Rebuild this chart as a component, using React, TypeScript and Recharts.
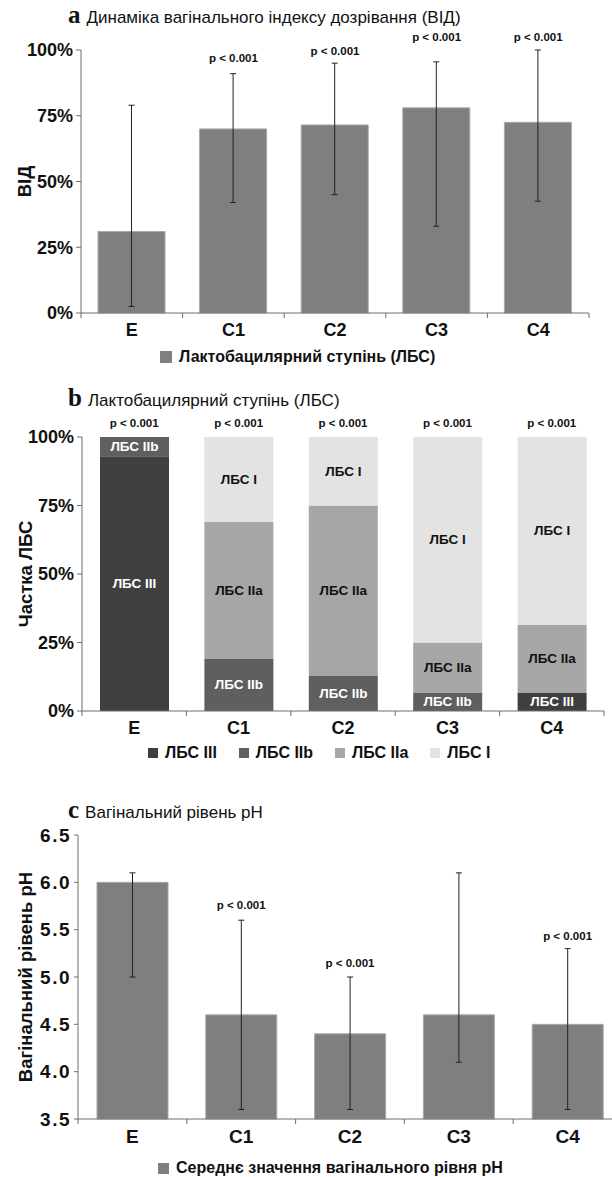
import React from 'react';
import { ComposedChart, Bar, Line, XAxis, YAxis, ErrorBar, LabelList, Legend } from 'recharts';

// ---------- shared ----------
const categories = ['E', 'C1', 'C2', 'C3', 'C4'];

// ---------- chart a: vaginal maturation index (ВІД), % ----------
const vidMean = [31, 70, 71.5, 78, 72.5];
const vidLow = [2.5, 42, 45, 33, 42.5];
const vidHigh = [79, 91, 95, 95.5, 100];
const vidP = ['', 'p < 0.001', 'p < 0.001', 'p < 0.001', 'p < 0.001'];

// ---------- chart b: lactobacillary grade shares, % ----------
const lbsIII = [93, 0, 0, 0, 6.6];
const lbsIIb = [7, 19, 12.8, 6.6, 0];
const lbsIIa = [0, 50, 62.2, 18.4, 24.8];
const lbsI = [0, 31, 25, 75, 68.6];
const lbsP = ['p < 0.001', 'p < 0.001', 'p < 0.001', 'p < 0.001', 'p < 0.001'];

// ---------- chart c: vaginal pH ----------
const phMean = [6.0, 4.6, 4.4, 4.6, 4.5];
const phLow = [5.0, 3.6, 3.6, 4.1, 3.6];
const phHigh = [6.1, 5.6, 5.0, 6.1, 5.3];
const phP = ['', 'p < 0.001', 'p < 0.001', '', 'p < 0.001'];

const pctTicks = [0, 25, 50, 75, 100];
const phTicks = [3.5, 4.0, 4.5, 5.0, 5.5, 6.0, 6.5];

const dataA = categories.map((c, i) => ({
  cat: c,
  v: vidMean[i],
  err: [vidMean[i] - vidLow[i], vidHigh[i] - vidMean[i]],
  top: vidHigh[i],
  p: vidP[i],
}));

const dataB = categories.map((c, i) => ({
  cat: c,
  III: lbsIII[i],
  IIb: lbsIIb[i],
  IIa: lbsIIa[i],
  I: lbsI[i],
  total: lbsIII[i] + lbsIIb[i] + lbsIIa[i] + lbsI[i],
  p: lbsP[i],
}));

const dataC = categories.map((c, i) => ({
  cat: c,
  v: phMean[i],
  err: [phMean[i] - phLow[i], phHigh[i] - phMean[i]],
  top: phHigh[i],
  p: phP[i],
}));

// ---------- styles ----------
const FONT = '"Liberation Sans", Arial, sans-serif';
const AXIS = '#6f6f6f';
const TEXT = '#111';
const BAR = '#7f7f7f';
const BAR_EDGE = '#a9a9a9';
const C_III = '#3f3f3f';
const C_IIb = '#5f5f5f';
const C_IIa = '#a6a6a6';
const C_I = '#e3e3e3';

const yTick = { fontSize: 18, fontWeight: 700, fill: TEXT, fontFamily: FONT };
const yTickC = { fontSize: 19, fontWeight: 700, fill: TEXT, fontFamily: FONT, letterSpacing: 1.5 };

const makeXTick = (band: number, count: number, size: number) => (props: any) => {
  const { x, y, payload, index } = props;
  return (
    <g>
      <line x1={x - band / 2} x2={x - band / 2} y1={y} y2={y + 5} stroke={AXIS} />
      {index === count - 1 && (
        <line x1={x + band / 2} x2={x + band / 2} y1={y} y2={y + 5} stroke={AXIS} />
      )}
      <text
        x={x}
        y={y + 17}
        textAnchor="middle"
        dominantBaseline="central"
        fontSize={size}
        fontWeight={700}
        fill={TEXT}
        fontFamily={FONT}
      >
        {payload.value}
      </text>
    </g>
  );
};

const yLabel = (text: string, cx: number) => (props: any) => {
  const vb = props.viewBox || {};
  const cy = (vb.y || 0) + (vb.height || 0) / 2;
  return (
    <text
      x={cx}
      y={cy}
      transform={`rotate(-90 ${cx} ${cy})`}
      textAnchor="middle"
      dominantBaseline="central"
      fontSize={18.5}
      fontWeight={700}
      fill={TEXT}
      fontFamily={FONT}
    >
      {text}
    </text>
  );
};

const pLabel = (offsets: number[]) => (props: any) => {
  const { x, y, value, index } = props;
  if (!value) return null;
  const off = offsets[index ?? 0] ?? 14;
  return (
    <text
      x={x}
      y={y - off}
      textAnchor="middle"
      dominantBaseline="central"
      fontSize={11.5}
      fontWeight={700}
      fill={TEXT}
      fontFamily={FONT}
    >
      {value}
    </text>
  );
};

const segLabel = (name: string, color: string) => (props: any) => {
  const { x, y, width, height, value } = props;
  if (!value) return null;
  return (
    <text
      x={x + width / 2}
      y={y + height / 2}
      textAnchor="middle"
      dominantBaseline="central"
      fontSize={13.5}
      fontWeight={700}
      fill={color}
      fontFamily={FONT}
    >
      {name}
    </text>
  );
};

type LegendItem = { name: string; color: string };
const legendContent = (items: LegendItem[], padLeft: number, gap: number, sq: number) => () => (
  <div
    style={{
      display: 'flex',
      alignItems: 'center',
      height: 28,
      paddingLeft: padLeft,
      gap,
      fontFamily: FONT,
      fontSize: 16,
      fontWeight: 700,
      color: TEXT,
      whiteSpace: 'nowrap',
    }}
  >
    {items.map((it) => (
      <div key={it.name} style={{ display: 'flex', alignItems: 'center' }}>
        <span style={{ display: 'inline-block', width: sq, height: sq, background: it.color, marginRight: 7 }} />
        <span>{it.name}</span>
      </div>
    ))}
  </div>
);

const Title = ({ letter, text, top }: { letter: string; text: string; top: number }) => (
  <div style={{ position: 'absolute', left: 68, top, height: 24, lineHeight: '24px', whiteSpace: 'nowrap' }}>
    <span style={{ fontFamily: '"Liberation Serif", "Times New Roman", serif', fontWeight: 700, fontSize: 25, color: TEXT }}>
      {letter}
    </span>
    <span style={{ fontFamily: FONT, fontSize: 17, color: TEXT, marginLeft: 6 }}>{text}</span>
  </div>
);

export default function App() {
  return (
    <div style={{ position: 'absolute', left: 0, top: 0, width: 612, height: 1177, overflow: 'hidden', background: '#fff' }}>
      {/* chart a */}
      <div style={{ position: 'absolute', left: 0, top: 0 }}>
        <ComposedChart width={612} height={385} data={dataA} margin={{ top: 50, right: 23, bottom: 14, left: 0 }}>
          <XAxis
            dataKey="cat"
            height={30}
            axisLine={{ stroke: AXIS }}
            tickLine={false}
            tickSize={0}
            tickMargin={0}
            tick={makeXTick(101.6, 5, 18)}
            interval={0}
          />
          <YAxis
            width={81}
            domain={[0, 100]}
            ticks={pctTicks}
            tickFormatter={(v: number) => `${v}%`}
            tick={yTick}
            tickSize={5}
            tickMargin={3}
            tickLine={{ stroke: AXIS }}
            axisLine={{ stroke: AXIS }}
            label={yLabel('ВІД', 24)}
          />
          <YAxis yAxisId="r" orientation="right" width={0} tick={false} tickLine={false} axisLine={{ stroke: AXIS }} />
          <Bar dataKey="v" fill={BAR} stroke={BAR_EDGE} strokeWidth={1} barSize={67} isAnimationActive={false}>
            <ErrorBar dataKey="err" width={3} stroke="#222" strokeWidth={1} direction="y" />
          </Bar>
          <Line dataKey="top" stroke="none" dot={false} activeDot={false} isAnimationActive={false} legendType="none">
            <LabelList dataKey="p" content={pLabel([0, 16, 12, 25, 13])} />
          </Line>
          <Legend
            verticalAlign="bottom"
            wrapperStyle={{ left: 0, width: 612 }}
            content={legendContent([{ name: 'Лактобацилярний ступінь (ЛБС)', color: BAR }], 160, 0, 12)}
          />
        </ComposedChart>
      </div>

      {/* chart b */}
      <div style={{ position: 'absolute', left: 0, top: 385 }}>
        <ComposedChart width={612} height={405} data={dataB} margin={{ top: 52, right: 8, bottom: 23, left: 0 }}>
          <XAxis
            dataKey="cat"
            height={28}
            axisLine={{ stroke: AXIS }}
            tickLine={false}
            tickSize={0}
            tickMargin={0}
            tick={makeXTick(104.4, 5, 18)}
            interval={0}
          />
          <XAxis xAxisId="t" dataKey="cat" orientation="top" height={0} tick={false} tickLine={false} axisLine={{ stroke: AXIS }} />
          <YAxis
            width={82}
            domain={[0, 100]}
            ticks={pctTicks}
            tickFormatter={(v: number) => `${v}%`}
            tick={yTick}
            tickSize={5}
            tickMargin={3}
            tickLine={{ stroke: AXIS }}
            axisLine={{ stroke: AXIS }}
            label={yLabel('Частка ЛБС', 25)}
          />
          <YAxis yAxisId="r" orientation="right" width={0} tick={false} tickLine={false} axisLine={{ stroke: AXIS }} />
          <Bar dataKey="III" stackId="s" fill={C_III} barSize={69} isAnimationActive={false}>
            <LabelList dataKey="III" content={segLabel('ЛБС III', '#fff')} />
          </Bar>
          <Bar dataKey="IIb" stackId="s" fill={C_IIb} barSize={69} isAnimationActive={false}>
            <LabelList dataKey="IIb" content={segLabel('ЛБС IIb', '#fff')} />
          </Bar>
          <Bar dataKey="IIa" stackId="s" fill={C_IIa} barSize={69} isAnimationActive={false}>
            <LabelList dataKey="IIa" content={segLabel('ЛБС IIa', TEXT)} />
          </Bar>
          <Bar dataKey="I" stackId="s" fill={C_I} barSize={69} isAnimationActive={false}>
            <LabelList dataKey="I" content={segLabel('ЛБС I', TEXT)} />
          </Bar>
          <Line dataKey="total" stroke="none" dot={false} activeDot={false} isAnimationActive={false} legendType="none">
            <LabelList dataKey="p" content={pLabel([14, 14, 14, 14, 14])} />
          </Line>
          <Legend
            verticalAlign="bottom"
            wrapperStyle={{ left: 0, width: 612 }}
            content={legendContent(
              [
                { name: 'ЛБС III', color: C_III },
                { name: 'ЛБС IIb', color: C_IIb },
                { name: 'ЛБС IIa', color: C_IIa },
                { name: 'ЛБС I', color: C_I },
              ],
              148,
              22,
              10
            )}
          />
        </ComposedChart>
      </div>

      {/* chart c */}
      <div style={{ position: 'absolute', left: 0, top: 790 }}>
        <ComposedChart width={640} height={400} data={dataC} margin={{ top: 45, right: 18, bottom: 8, left: 0 }}>
          <XAxis
            dataKey="cat"
            height={35}
            axisLine={{ stroke: AXIS }}
            tickLine={false}
            tickSize={0}
            tickMargin={0}
            tick={makeXTick(108.8, 5, 19)}
            interval={0}
          />
          <XAxis xAxisId="t" dataKey="cat" orientation="top" height={0} tick={false} tickLine={false} axisLine={{ stroke: AXIS }} />
          <YAxis
            width={78}
            domain={[3.5, 6.5]}
            ticks={phTicks}
            tickFormatter={(v: number) => v.toFixed(1)}
            tick={yTickC}
            tickSize={4}
            tickMargin={3}
            tickLine={{ stroke: AXIS }}
            axisLine={{ stroke: AXIS }}
            label={yLabel('Вагінальний рівень pH', 25)}
          />
          <YAxis yAxisId="r" orientation="right" width={0} tick={false} tickLine={false} axisLine={{ stroke: AXIS }} />
          <Bar dataKey="v" fill={BAR} stroke={BAR_EDGE} strokeWidth={1} barSize={71} isAnimationActive={false}>
            <ErrorBar dataKey="err" width={3} stroke="#222" strokeWidth={1} direction="y" />
          </Bar>
          <Line dataKey="top" stroke="none" dot={false} activeDot={false} isAnimationActive={false} legendType="none">
            <LabelList dataKey="p" content={pLabel([15, 15, 14, 15, 13])} />
          </Line>
          <Legend
            verticalAlign="bottom"
            wrapperStyle={{ left: 0, width: 612 }}
            content={legendContent([{ name: 'Середнє значення вагінального рівня pH', color: BAR }], 158, 0, 11)}
          />
        </ComposedChart>
      </div>

      <Title letter="a" text="Динаміка вагінального індексу дозрівання (ВІД)" top={3} />
      <Title letter="b" text="Лактобацилярний ступінь (ЛБС)" top={386} />
      <Title letter="c" text="Вагінальний рівень pH" top={798} />
    </div>
  );
}
